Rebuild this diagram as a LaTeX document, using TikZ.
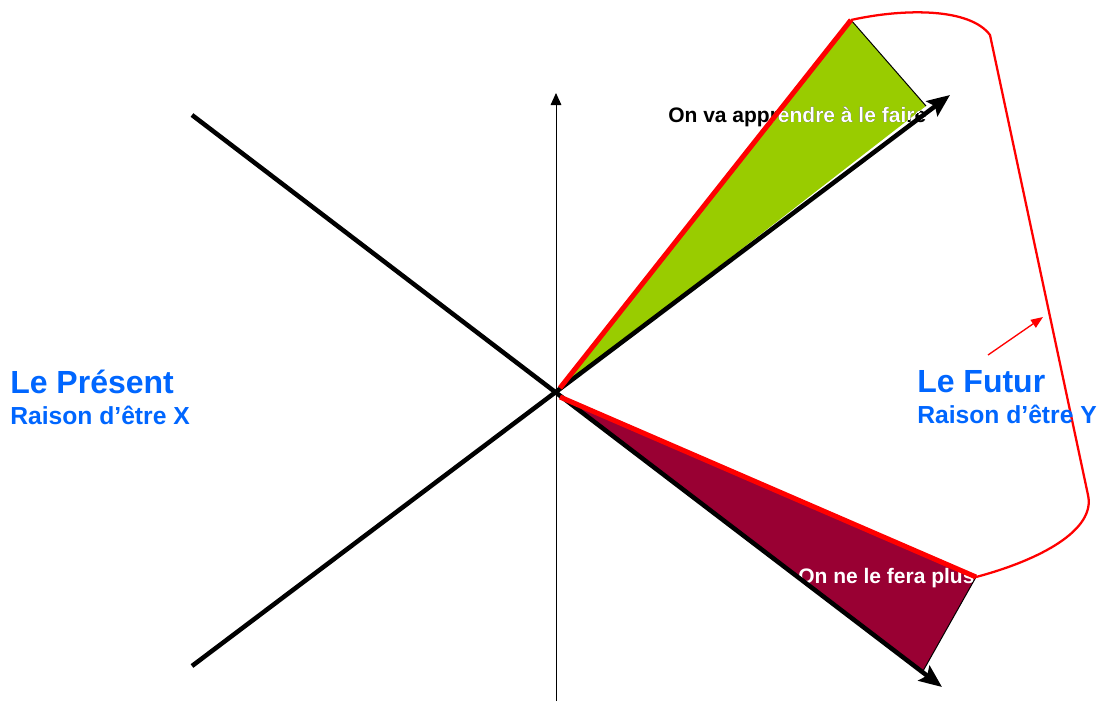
\documentclass[tikz,border=0pt]{standalone}
\usepackage{fontspec}
\setmainfont{Liberation Sans}
\usetikzlibrary{arrows.meta}
\definecolor{vert}{RGB}{153,204,0}
\definecolor{bordeaux}{RGB}{153,0,51}
\definecolor{bleu}{RGB}{0,102,255}

\begin{document}
\begin{tikzpicture}[x=0.75pt, y=-0.75pt, line join=round,
	axe/.style={black, line width=3.4pt, -{Stealth[length=17pt, width=14pt, inset=3pt]}},
	bord/.style={red, line width=3.75pt},
	titre/.style={bleu, font=\bfseries\fontsize{24}{28}\selectfont, inner sep=0pt, anchor=base west},
	soustitre/.style={bleu, font=\bfseries\fontsize{18.5}{22}\selectfont, inner sep=0pt, anchor=base west},
	lbl/.style={font=\bfseries\fontsize{15.75}{19}\selectfont, inner sep=0pt, anchor=base west}]
	\useasboundingbox (0,0) rectangle (1101,701);
	% points
	\coordinate (C) at (556,393);
	\coordinate (T) at (851,20);
	\coordinate (R) at (926,106);
	\coordinate (B) at (976,577);
	\coordinate (L) at (923,671);
	% zones
	\fill[vert] (C) -- (T) -- (R) -- cycle;
	\fill[bordeaux] (C) -- (B) -- (L) -- cycle;
	% textes des zones
	\node[lbl] (gain) at (668,122) {On va apprendre à le faire};
	\begin{scope}
		\clip (C) -- (T) -- (R) -- cycle;
		\node[lbl, white] at (668,122) {On va apprendre à le faire};
	\end{scope}
	\node[lbl, white] (perte) at (798,583) {On ne le fera plus};
	\draw[line width=0.75pt] (T) -- (R);
	\draw[line width=0.75pt] (B) -- (L);
	% axes
	\draw[line width=0.75pt, -{Triangle[length=9pt, width=8pt]}] (556,701) -- (556,93);
	\draw[axe] (192,115) -- (942,687);
	\draw[axe] (192,666) -- (950,95);
	% bords rouges
	\draw[bord] (560,388) -- (T);
	\draw[bord] (560,397) -- (B);
	\draw[red, line width=1.7pt] (T) .. controls (905,8) and (970,8) .. (990,35)
		-- (1088,495) .. controls (1096,530) and (1040,560) .. (B);
	\draw[red, line width=1pt, -{Triangle[length=9pt, width=7pt]}] (988,355) -- (1043,317);
	% titres
	\node[titre] (present) at (10,393) {Le Présent};
	\node[soustitre] (raisonx) at (10,424) {Raison d’être X};
	\node[titre] (futur) at (917,392) {Le Futur};
	\node[soustitre] (raisony) at (917,423) {Raison d’être Y};
\end{tikzpicture}
\end{document}
